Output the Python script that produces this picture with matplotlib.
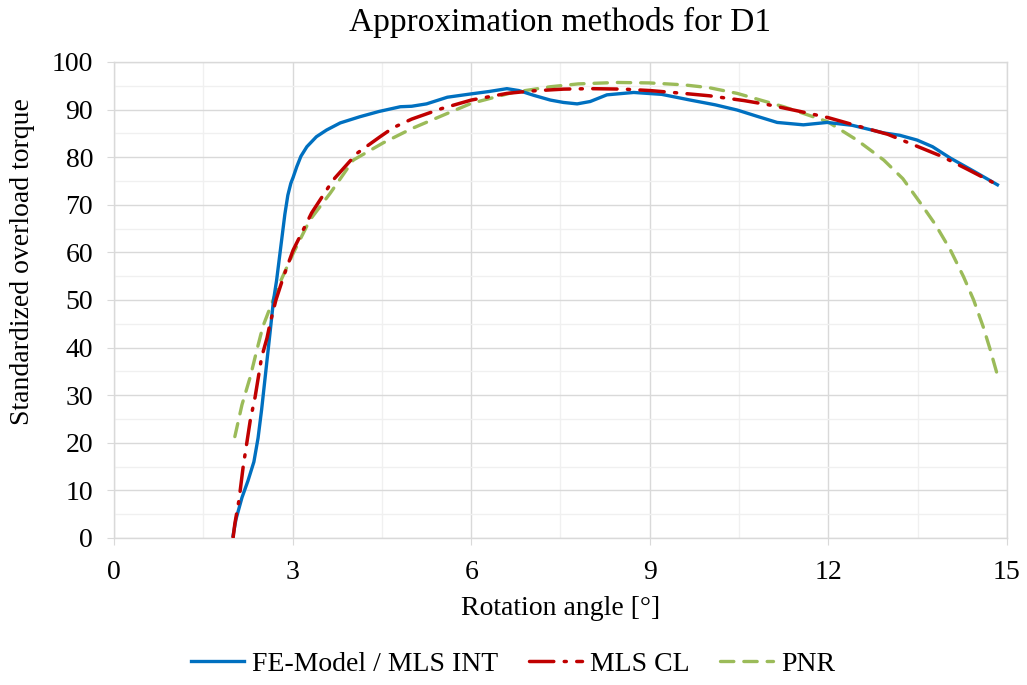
import numpy as np
import matplotlib
matplotlib.use("Agg")
import matplotlib.pyplot as plt
from matplotlib.ticker import MultipleLocator

plt.rcParams['font.family'] = ['Liberation Serif', 'DejaVu Serif']

# ── Data ─────────────────────────────────────────────────────
fe_x = [2.0, 2.05, 2.15, 2.25, 2.35, 2.42, 2.48, 2.55, 2.62, 2.68, 2.73, 2.78, 2.82,
        2.87, 2.92, 2.97, 3.01, 3.07, 3.14, 3.24, 3.4, 3.57, 3.8, 4.13, 4.45, 4.81,
        5.0, 5.25, 5.6, 6.0, 6.3, 6.6, 6.8, 7.05, 7.33, 7.55, 7.78, 8.0, 8.28,
        8.73, 9.2, 9.68, 10.1, 10.47, 10.8, 11.14, 11.58, 11.98, 12.4, 12.93,
        13.2, 13.49, 13.75, 14.05, 14.45, 14.84]
fe_y = [0.5, 4, 8.5, 12, 16, 21, 27, 35, 43, 50, 54, 59, 63, 68, 72, 74.5, 75.8,
        78, 80.2, 82.2, 84.3, 85.7, 87.2, 88.5, 89.6, 90.6, 90.7, 91.2, 92.6,
        93.3, 93.8, 94.4, 94.0, 93.0, 92.0, 91.5, 91.2, 91.7, 93.1, 93.6, 93.2,
        92.0, 91.0, 89.9, 88.6, 87.3, 86.8, 87.3, 86.7, 85.1, 84.6, 83.6, 82.2,
        79.8, 77.0, 74.2]

cl_x = [2.0, 2.03, 2.1, 2.17, 2.29, 2.37, 2.48, 2.57, 2.62, 2.72, 2.85, 3.01, 3.32,
        3.68, 4.08, 4.47, 4.69, 5.0, 5.5, 6.0, 6.6, 7.0, 7.55, 8.0, 8.56, 9.0,
        9.57, 10.0, 10.58, 11.0, 11.53, 12.0, 12.48, 13.0, 13.43, 13.9, 14.33, 14.84]
cl_y = [0, 3, 8, 15, 24.8, 29.6, 38, 42, 45, 50, 55, 60.5, 68.3, 75.2, 80.8, 84.3,
        86.2, 88.0, 90.2, 92.0, 93.4, 93.9, 94.3, 94.4, 94.3, 94.0, 93.4, 92.9,
        91.9, 91.0, 89.6, 88.3, 86.6, 84.8, 82.6, 80.2, 77.5, 74.2]

pnr_x = [2.03, 2.15, 2.29, 2.4, 2.5, 2.65, 2.8, 3.01, 3.29, 3.63, 4.02, 4.52, 5.0,
         5.6, 6.0, 6.7, 7.33, 7.8, 8.45, 9.0, 9.57, 10.0, 10.47, 11.25, 11.98,
         12.48, 12.93, 13.25, 13.55, 13.8, 14.05, 14.27, 14.44, 14.6, 14.72, 14.84]
pnr_y = [21.3, 28, 33.9, 39.5, 44.4, 49.3, 54, 59.8, 66.8, 72.4, 79.4, 83.0, 86.0,
         89.2, 91.3, 93.6, 94.8, 95.4, 95.7, 95.6, 95.2, 94.6, 93.4, 90.6, 87.5,
         83.6, 79.4, 75.5, 70.3, 65.8, 60.5, 54.9, 50.0, 44.4, 39.5, 34.2]

# ── Colours ─────────────────────────────────────────────────
BLUE  = '#0070C0'
RED   = '#C00000'
GREEN = '#9BBB59'
MAJOR = '#d9d9d9'
MINOR = '#f0f0f0'

fig = plt.figure(figsize=(10.27, 6.85), dpi=100)
ax = fig.add_axes([0.111, 0.2146, 0.8695, 0.6949])

ax.plot(fe_x, fe_y, color=BLUE, lw=2.4, label='FE-Model / MLS INT', zorder=3,
        solid_joinstyle='round')
ax.plot(cl_x, cl_y, color=RED, lw=2.5, dashes=(7, 3, 0.6, 3),
        dash_capstyle='round', label='MLS CL', zorder=4)
ax.plot(pnr_x, pnr_y, color=GREEN, lw=2.4, dashes=(4, 3),
        dash_capstyle='round', label='PNR', zorder=2)

ax.set_xlim(0, 15)
ax.set_ylim(0, 100)
ax.xaxis.set_major_locator(MultipleLocator(3))
ax.xaxis.set_minor_locator(MultipleLocator(1.5))
ax.yaxis.set_major_locator(MultipleLocator(10))
ax.yaxis.set_minor_locator(MultipleLocator(5))

ax.grid(True, which='major', color=MAJOR, lw=1.0, zorder=0)
ax.grid(True, which='minor', color=MINOR, lw=1.0, zorder=0)
ax.set_axisbelow(True)

for s in ax.spines.values():
    s.set_color(MAJOR)
    s.set_linewidth(1.0)

ax.tick_params(which='major', length=5, color=MAJOR, labelsize=20,
               labelcolor='black')
ax.tick_params(axis='x', which='major', pad=11)
ax.tick_params(axis='y', which='major', pad=10)
ax.tick_params(which='minor', length=0)

ax.set_title('Approximation methods for D1', fontsize=24, pad=22)
ax.set_xlabel('Rotation angle [°]', fontsize=20, labelpad=8)
ax.set_ylabel('Standardized overload torque', fontsize=20, labelpad=6)
ax.yaxis.set_label_coords(-0.088, 0.58)

fig.legend(loc='lower center', bbox_to_anchor=(0.5, -0.025), ncol=3,
           frameon=False, fontsize=20, handlelength=1.9, columnspacing=1.1,
           handletextpad=0.3)

fig.savefig('out.png', dpi=100)
